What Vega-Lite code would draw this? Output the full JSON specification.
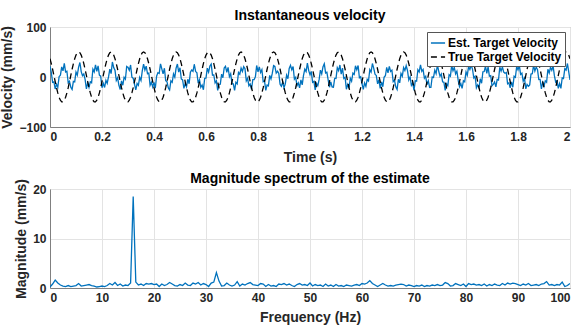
{
"$schema":"https://vega.github.io/schema/vega-lite/v6.json",
"padding":{"left":0,"top":8,"right":2,"bottom":2},
"spacing":6,
"config":{
"font":"Liberation Sans",
"view":{"stroke":"#a6a6a6","strokeWidth":1},
"axis":{"labelFontSize":12,"labelFontWeight":"bold","labelColor":"#262626","titleFontSize":14,"titleFontWeight":"bold","titleColor":"#262626","gridColor":"#e3e3e3","domainColor":"#808080","ticks":false,"labelPadding":4},
"title":{"fontSize":14,"fontWeight":"bold","color":"#000000"}
},
"datasets":{
"vel":[
{"t":0,"e":21.6,"g":36.5},{"t":0.005,"e":9.1,"g":26.8},{"t":0.01,"e":-10.7,"g":15.5},{"t":0.015,"e":-9.6,"g":3.1},{"t":0.02,"e":-23.9,"g":-9.4},{"t":0.025,"e":-14.7,"g":-21.3},{"t":0.03,"e":-20.5,"g":-31.9},{"t":0.035,"e":0.6,"g":-40.5},{"t":0.04,"e":3.6,"g":-46.5},{"t":0.045,"e":20.1,"g":-49.6},{"t":0.05,"e":12.4,"g":-49.6},{"t":0.055,"e":27.4,"g":-46.5},{"t":0.06,"e":10.1,"g":-40.5},{"t":0.065,"e":11.6,"g":-31.9},{"t":0.07,"e":-11.4,"g":-21.3},{"t":0.075,"e":-8.5,"g":-9.4},{"t":0.08,"e":-20.7,"g":3.1},{"t":0.085,"e":-24.9,"g":15.5},{"t":0.09,"e":-8.6,"g":26.8},{"t":0.095,"e":-9.7,"g":36.5},{"t":0.1,"e":10.1,"g":43.8},{"t":0.105,"e":3.6,"g":48.4},{"t":0.11,"e":19.8,"g":50},{"t":0.115,"e":29.0,"g":48.4},{"t":0.12,"e":10.8,"g":43.8},
{"t":0.125,"e":2.6,"g":36.5},{"t":0.13,"e":6.1,"g":26.8},{"t":0.135,"e":-4.7,"g":15.5},{"t":0.14,"e":-23.6,"g":3.1},{"t":0.145,"e":-11.9,"g":-9.4},{"t":0.15,"e":-20.7,"g":-21.3},{"t":0.155,"e":-9.5,"g":-31.9},{"t":0.16,"e":-11.4,"g":-40.5},{"t":0.165,"e":15.6,"g":-46.5},{"t":0.17,"e":10.1,"g":-49.6},{"t":0.175,"e":24.4,"g":-49.6},{"t":0.18,"e":11.4,"g":-46.5},{"t":0.185,"e":22.1,"g":-40.5},{"t":0.19,"e":3.6,"g":-31.9},{"t":0.195,"e":1.6,"g":-21.3},{"t":0.2,"e":-21.5,"g":-9.4},{"t":0.205,"e":-12.7,"g":3.1},{"t":0.21,"e":-20.9,"g":15.5},{"t":0.215,"e":-6.6,"g":26.8},{"t":0.22,"e":-12.7,"g":36.5},{"t":0.225,"e":0.1,"g":43.8},{"t":0.23,"e":15.6,"g":48.4},{"t":0.235,"e":6.8,"g":50},{"t":0.24,"e":30.0,"g":48.4},{"t":0.245,"e":18.8,"g":43.8},
{"t":0.25,"e":13.6,"g":36.5},{"t":0.255,"e":-6.9,"g":26.8},{"t":0.26,"e":-1.7,"g":15.5},{"t":0.265,"e":-16.6,"g":3.1},{"t":0.27,"e":-24.9,"g":-9.4},{"t":0.275,"e":-7.7,"g":-21.3},{"t":0.28,"e":-16.5,"g":-31.9},{"t":0.285,"e":-0.4,"g":-40.5},{"t":0.29,"e":-4.4,"g":-46.5},{"t":0.295,"e":21.1,"g":-49.6},{"t":0.3,"e":19.4,"g":-49.6},{"t":0.305,"e":13.4,"g":-46.5},{"t":0.31,"e":24.1,"g":-40.5},{"t":0.315,"e":-0.4,"g":-31.9},{"t":0.32,"e":-2.4,"g":-21.3},{"t":0.325,"e":-14.5,"g":-9.4},{"t":0.33,"e":-25.7,"g":3.1},{"t":0.335,"e":-12.9,"g":15.5},{"t":0.34,"e":-16.6,"g":26.8},{"t":0.345,"e":-0.7,"g":36.5},{"t":0.35,"e":-6.9,"g":43.8},{"t":0.355,"e":12.6,"g":48.4},{"t":0.36,"e":25.8,"g":50},{"t":0.365,"e":14.0,"g":48.4},{"t":0.37,"e":21.8,"g":43.8},
{"t":0.375,"e":6.6,"g":36.5},{"t":0.38,"e":8.1,"g":26.8},{"t":0.385,"e":-16.7,"g":15.5},{"t":0.39,"e":-10.6,"g":3.1},{"t":0.395,"e":-19.9,"g":-9.4},{"t":0.4,"e":-10.7,"g":-21.3},{"t":0.405,"e":-22.5,"g":-31.9},{"t":0.41,"e":1.6,"g":-40.5},{"t":0.415,"e":8.6,"g":-46.5},{"t":0.42,"e":7.1,"g":-49.6},{"t":0.425,"e":26.4,"g":-49.6},{"t":0.43,"e":16.4,"g":-46.5},{"t":0.435,"e":6.1,"g":-40.5},{"t":0.44,"e":17.6,"g":-31.9},{"t":0.445,"e":-7.4,"g":-21.3},{"t":0.45,"e":-9.5,"g":-9.4},{"t":0.455,"e":-21.7,"g":3.1},{"t":0.46,"e":-25.9,"g":15.5},{"t":0.465,"e":-7.6,"g":26.8},{"t":0.47,"e":-10.7,"g":36.5},{"t":0.475,"e":6.1,"g":43.8},{"t":0.48,"e":-0.4,"g":48.4},{"t":0.485,"e":17.8,"g":50},{"t":0.49,"e":26.0,"g":48.4},{"t":0.495,"e":9.8,"g":43.8},
{"t":0.5,"e":18.6,"g":36.5},{"t":0.505,"e":-3.9,"g":26.8},{"t":0.51,"e":-5.7,"g":15.5},{"t":0.515,"e":-22.6,"g":3.1},{"t":0.52,"e":-12.9,"g":-9.4},{"t":0.525,"e":-19.7,"g":-21.3},{"t":0.53,"e":-4.5,"g":-31.9},{"t":0.535,"e":-13.4,"g":-40.5},{"t":0.54,"e":9.6,"g":-46.5},{"t":0.545,"e":14.1,"g":-49.6},{"t":0.55,"e":11.4,"g":-49.6},{"t":0.555,"e":25.4,"g":-46.5},{"t":0.56,"e":11.1,"g":-40.5},{"t":0.565,"e":8.6,"g":-31.9},{"t":0.57,"e":-12.4,"g":-21.3},{"t":0.575,"e":-5.5,"g":-9.4},{"t":0.58,"e":-20.7,"g":3.1},{"t":0.585,"e":-15.9,"g":15.5},{"t":0.59,"e":-25.6,"g":26.8},{"t":0.595,"e":-2.7,"g":36.5},{"t":0.6,"e":-1.9,"g":43.8},{"t":0.605,"e":17.6,"g":48.4},{"t":0.61,"e":9.8,"g":50},{"t":0.615,"e":22.0,"g":48.4},{"t":0.62,"e":25.8,"g":43.8},
{"t":0.625,"e":3.6,"g":36.5},{"t":0.63,"e":4.1,"g":26.8},{"t":0.635,"e":-11.7,"g":15.5},{"t":0.64,"e":-7.6,"g":3.1},{"t":0.645,"e":-26.9,"g":-9.4},{"t":0.65,"e":-14.7,"g":-21.3},{"t":0.655,"e":-14.5,"g":-31.9},{"t":0.66,"e":5.6,"g":-40.5},{"t":0.665,"e":-1.4,"g":-46.5},{"t":0.67,"e":18.1,"g":-49.6},{"t":0.675,"e":21.4,"g":-49.6},{"t":0.68,"e":9.4,"g":-46.5},{"t":0.685,"e":19.1,"g":-40.5},{"t":0.69,"e":0.6,"g":-31.9},{"t":0.695,"e":6.6,"g":-21.3},{"t":0.7,"e":-13.5,"g":-9.4},{"t":0.705,"e":-13.7,"g":3.1},{"t":0.71,"e":-26.9,"g":15.5},{"t":0.715,"e":-10.6,"g":26.8},{"t":0.72,"e":-13.7,"g":36.5},{"t":0.725,"e":9.1,"g":43.8},{"t":0.73,"e":5.6,"g":48.4},{"t":0.735,"e":17.8,"g":50},{"t":0.74,"e":11.0,"g":48.4},{"t":0.745,"e":20.8,"g":43.8},
{"t":0.75,"e":16.6,"g":36.5},{"t":0.755,"e":-7.9,"g":26.8},{"t":0.76,"e":-2.7,"g":15.5},{"t":0.765,"e":-17.6,"g":3.1},{"t":0.77,"e":-13.9,"g":-9.4},{"t":0.775,"e":-24.7,"g":-21.3},{"t":0.78,"e":-5.5,"g":-31.9},{"t":0.785,"e":-5.4,"g":-40.5},{"t":0.79,"e":0.6,"g":-46.5},{"t":0.795,"e":23.1,"g":-49.6},{"t":0.8,"e":10.4,"g":-49.6},{"t":0.805,"e":20.4,"g":-46.5},{"t":0.81,"e":9.1,"g":-40.5},{"t":0.815,"e":14.6,"g":-31.9},{"t":0.82,"e":-9.4,"g":-21.3},{"t":0.825,"e":-7.5,"g":-9.4},{"t":0.83,"e":-26.7,"g":3.1},{"t":0.835,"e":-15.9,"g":15.5},{"t":0.84,"e":-17.6,"g":26.8},{"t":0.845,"e":3.3,"g":36.5},{"t":0.85,"e":-3.9,"g":43.8},{"t":0.855,"e":7.6,"g":48.4},{"t":0.86,"e":22.8,"g":50},{"t":0.865,"e":21.0,"g":48.4},{"t":0.87,"e":7.8,"g":43.8},
{"t":0.875,"e":11.6,"g":36.5},{"t":0.88,"e":7.1,"g":26.8},{"t":0.885,"e":-14.7,"g":15.5},{"t":0.89,"e":-18.6,"g":3.1},{"t":0.895,"e":-9.9,"g":-9.4},{"t":0.9,"e":-21.7,"g":-21.3},{"t":0.905,"e":-13.5,"g":-31.9},{"t":0.91,"e":3.6,"g":-40.5},{"t":0.915,"e":-3.4,"g":-46.5},{"t":0.92,"e":17.1,"g":-49.6},{"t":0.925,"e":23.4,"g":-49.6},{"t":0.93,"e":14.4,"g":-46.5},{"t":0.935,"e":21.1,"g":-40.5},{"t":0.94,"e":-4.4,"g":-31.9},{"t":0.945,"e":-0.4,"g":-21.3},{"t":0.95,"e":-17.5,"g":-9.4},{"t":0.955,"e":-11.7,"g":3.1},{"t":0.96,"e":-21.9,"g":15.5},{"t":0.965,"e":-5.6,"g":26.8},{"t":0.97,"e":-15.7,"g":36.5},{"t":0.975,"e":3.1,"g":43.8},{"t":0.98,"e":15.6,"g":48.4},{"t":0.985,"e":10.8,"g":50},{"t":0.99,"e":28.0,"g":48.4},{"t":0.995,"e":12.8,"g":43.8},
{"t":1.0,"e":4.6,"g":36.5},{"t":1.005,"e":11.1,"g":26.8},{"t":1.01,"e":-10.7,"g":15.5},{"t":1.015,"e":-8.6,"g":3.1},{"t":1.02,"e":-25.9,"g":-9.4},{"t":1.025,"e":-12.7,"g":-21.3},{"t":1.03,"e":-17.5,"g":-31.9},{"t":1.035,"e":-5.4,"g":-40.5},{"t":1.04,"e":13.6,"g":-46.5},{"t":1.045,"e":6.1,"g":-49.6},{"t":1.05,"e":20.4,"g":-49.6},{"t":1.055,"e":26.4,"g":-46.5},{"t":1.06,"e":8.1,"g":-40.5},{"t":1.065,"e":9.6,"g":-31.9},{"t":1.07,"e":-6.4,"g":-21.3},{"t":1.075,"e":-20.5,"g":-9.4},{"t":1.08,"e":-9.7,"g":3.1},{"t":1.085,"e":-19.9,"g":15.5},{"t":1.09,"e":-20.6,"g":26.8},{"t":1.095,"e":-2.7,"g":36.5},{"t":1.1,"e":-2.9,"g":43.8},{"t":1.105,"e":18.6,"g":48.4},{"t":1.11,"e":12.8,"g":50},{"t":1.115,"e":24.0,"g":48.4},{"t":1.12,"e":5.8,"g":43.8},
{"t":1.125,"e":17.6,"g":36.5},{"t":1.13,"e":-2.9,"g":26.8},{"t":1.135,"e":-0.7,"g":15.5},{"t":1.14,"e":-24.6,"g":3.1},{"t":1.145,"e":-14.9,"g":-9.4},{"t":1.15,"e":-22.7,"g":-21.3},{"t":1.155,"e":-2.5,"g":-31.9},{"t":1.16,"e":-8.4,"g":-40.5},{"t":1.165,"e":7.6,"g":-46.5},{"t":1.17,"e":5.1,"g":-49.6},{"t":1.175,"e":22.4,"g":-49.6},{"t":1.18,"e":14.4,"g":-46.5},{"t":1.185,"e":23.1,"g":-40.5},{"t":1.19,"e":-1.4,"g":-31.9},{"t":1.195,"e":0.6,"g":-21.3},{"t":1.2,"e":-13.5,"g":-9.4},{"t":1.205,"e":-24.7,"g":3.1},{"t":1.21,"e":-11.9,"g":15.5},{"t":1.215,"e":-18.6,"g":26.8},{"t":1.22,"e":-4.7,"g":36.5},{"t":1.225,"e":-7.9,"g":43.8},{"t":1.23,"e":14.6,"g":48.4},{"t":1.235,"e":9.8,"g":50},{"t":1.24,"e":27.0,"g":48.4},{"t":1.245,"e":17.8,"g":43.8},
{"t":1.25,"e":5.6,"g":36.5},{"t":1.255,"e":3.1,"g":26.8},{"t":1.26,"e":-13.7,"g":15.5},{"t":1.265,"e":-5.6,"g":3.1},{"t":1.27,"e":-22.9,"g":-9.4},{"t":1.275,"e":-9.7,"g":-21.3},{"t":1.28,"e":-19.5,"g":-31.9},{"t":1.285,"e":-0.4,"g":-40.5},{"t":1.29,"e":2.6,"g":-46.5},{"t":1.295,"e":19.1,"g":-49.6},{"t":1.3,"e":8.4,"g":-49.6},{"t":1.305,"e":21.4,"g":-46.5},{"t":1.31,"e":11.1,"g":-40.5},{"t":1.315,"e":13.6,"g":-31.9},{"t":1.32,"e":-9.4,"g":-21.3},{"t":1.325,"e":-6.5,"g":-9.4},{"t":1.33,"e":-19.7,"g":3.1},{"t":1.335,"e":-24.9,"g":15.5},{"t":1.34,"e":-4.6,"g":26.8},{"t":1.345,"e":-11.7,"g":36.5},{"t":1.35,"e":7.1,"g":43.8},{"t":1.355,"e":1.6,"g":48.4},{"t":1.36,"e":18.8,"g":50},{"t":1.365,"e":13.0,"g":48.4},{"t":1.37,"e":22.8,"g":43.8},
{"t":1.375,"e":12.6,"g":36.5},{"t":1.38,"e":-5.9,"g":26.8},{"t":1.385,"e":0.3,"g":15.5},{"t":1.39,"e":-16.6,"g":3.1},{"t":1.395,"e":-11.9,"g":-9.4},{"t":1.4,"e":-26.7,"g":-21.3},{"t":1.405,"e":-7.5,"g":-31.9},{"t":1.41,"e":-8.4,"g":-40.5},{"t":1.415,"e":14.6,"g":-46.5},{"t":1.42,"e":10.1,"g":-49.6},{"t":1.425,"e":24.4,"g":-49.6},{"t":1.43,"e":11.4,"g":-46.5},{"t":1.435,"e":15.1,"g":-40.5},{"t":1.44,"e":-2.4,"g":-31.9},{"t":1.445,"e":1.6,"g":-21.3},{"t":1.45,"e":-15.5,"g":-9.4},{"t":1.455,"e":-7.7,"g":3.1},{"t":1.46,"e":-20.9,"g":15.5},{"t":1.465,"e":-20.6,"g":26.8},{"t":1.47,"e":0.3,"g":36.5},{"t":1.475,"e":-0.9,"g":43.8},{"t":1.48,"e":13.6,"g":48.4},{"t":1.485,"e":6.8,"g":50},{"t":1.49,"e":24.0,"g":48.4},{"t":1.495,"e":11.8,"g":43.8},
{"t":1.5,"e":1.6,"g":36.5},{"t":1.505,"e":6.1,"g":26.8},{"t":1.51,"e":-9.7,"g":15.5},{"t":1.515,"e":-10.6,"g":3.1},{"t":1.52,"e":-26.9,"g":-9.4},{"t":1.525,"e":-13.7,"g":-21.3},{"t":1.53,"e":-17.5,"g":-31.9},{"t":1.535,"e":4.6,"g":-40.5},{"t":1.54,"e":1.6,"g":-46.5},{"t":1.545,"e":23.1,"g":-49.6},{"t":1.55,"e":12.4,"g":-49.6},{"t":1.555,"e":19.4,"g":-46.5},{"t":1.56,"e":6.1,"g":-40.5},{"t":1.565,"e":11.6,"g":-31.9},{"t":1.57,"e":-6.4,"g":-21.3},{"t":1.575,"e":-19.5,"g":-9.4},{"t":1.58,"e":-12.7,"g":3.1},{"t":1.585,"e":-22.9,"g":15.5},{"t":1.59,"e":-7.6,"g":26.8},{"t":1.595,"e":-9.7,"g":36.5},{"t":1.6,"e":10.1,"g":43.8},{"t":1.605,"e":3.6,"g":48.4},{"t":1.61,"e":20.8,"g":50},{"t":1.615,"e":15.0,"g":48.4},{"t":1.62,"e":23.8,"g":43.8},
{"t":1.625,"e":15.6,"g":36.5},{"t":1.63,"e":-1.9,"g":26.8},{"t":1.635,"e":1.3,"g":15.5},{"t":1.64,"e":-21.6,"g":3.1},{"t":1.645,"e":-15.9,"g":-9.4},{"t":1.65,"e":-21.7,"g":-21.3},{"t":1.655,"e":-3.5,"g":-31.9},{"t":1.66,"e":-12.4,"g":-40.5},{"t":1.665,"e":10.6,"g":-46.5},{"t":1.67,"e":11.1,"g":-49.6},{"t":1.675,"e":21.4,"g":-49.6},{"t":1.68,"e":7.4,"g":-46.5},{"t":1.685,"e":20.1,"g":-40.5},{"t":1.69,"e":1.6,"g":-31.9},{"t":1.695,"e":2.6,"g":-21.3},{"t":1.7,"e":-17.5,"g":-9.4},{"t":1.705,"e":-14.7,"g":3.1},{"t":1.71,"e":-9.9,"g":15.5},{"t":1.715,"e":-19.6,"g":26.8},{"t":1.72,"e":-4.7,"g":36.5},{"t":1.725,"e":-5.9,"g":43.8},{"t":1.73,"e":19.6,"g":48.4},{"t":1.735,"e":11.8,"g":50},{"t":1.74,"e":20.0,"g":48.4},{"t":1.745,"e":9.8,"g":43.8},
{"t":1.75,"e":7.6,"g":36.5},{"t":1.755,"e":9.1,"g":26.8},{"t":1.76,"e":-13.7,"g":15.5},{"t":1.765,"e":-11.6,"g":3.1},{"t":1.77,"e":-21.9,"g":-9.4},{"t":1.775,"e":-9.7,"g":-21.3},{"t":1.78,"e":-20.5,"g":-31.9},{"t":1.785,"e":1.6,"g":-40.5},{"t":1.79,"e":-0.4,"g":-46.5},{"t":1.795,"e":21.1,"g":-49.6},{"t":1.8,"e":14.4,"g":-49.6},{"t":1.805,"e":23.4,"g":-46.5},{"t":1.81,"e":5.1,"g":-40.5},{"t":1.815,"e":7.6,"g":-31.9},{"t":1.82,"e":-8.4,"g":-21.3},{"t":1.825,"e":-2.5,"g":-9.4},{"t":1.83,"e":-23.7,"g":3.1},{"t":1.835,"e":-14.9,"g":15.5},{"t":1.84,"e":-18.6,"g":26.8},{"t":1.845,"e":-15.7,"g":36.5},{"t":1.85,"e":6.1,"g":43.8},{"t":1.855,"e":6.6,"g":48.4},{"t":1.86,"e":23.8,"g":50},{"t":1.865,"e":12.0,"g":48.4},{"t":1.87,"e":19.8,"g":43.8},
{"t":1.875,"e":14.6,"g":36.5},{"t":1.88,"e":-4.9,"g":26.8},{"t":1.885,"e":-4.7,"g":15.5},{"t":1.89,"e":-23.6,"g":3.1},{"t":1.895,"e":-10.9,"g":-9.4},{"t":1.9,"e":-18.7,"g":-21.3},{"t":1.905,"e":-7.5,"g":-31.9},{"t":1.91,"e":-10.4,"g":-40.5},{"t":1.915,"e":15.6,"g":-46.5},{"t":1.92,"e":8.1,"g":-49.6},{"t":1.925,"e":19.4,"g":-49.6},{"t":1.93,"e":13.4,"g":-46.5},{"t":1.935,"e":22.1,"g":-40.5},{"t":1.94,"e":2.6,"g":-31.9},{"t":1.945,"e":-10.4,"g":-21.3},{"t":1.95,"e":-7.5,"g":-9.4},{"t":1.955,"e":-22.7,"g":3.1},{"t":1.96,"e":-12.9,"g":15.5},{"t":1.965,"e":-22.6,"g":26.8},{"t":1.97,"e":-1.7,"g":36.5},{"t":1.975,"e":-2.9,"g":43.8},{"t":1.98,"e":16.6,"g":48.4},{"t":1.985,"e":13.8,"g":50},{"t":1.99,"e":27.0,"g":48.4},{"t":1.995,"e":10.8,"g":43.8},
{"t":2.0,"e":-6.0,"g":36.5}
],
"spec":[
{"f":0,"m":0.2},{"f":0.5,"m":0.8},{"f":1,"m":1.6},{"f":1.5,"m":1.0},{"f":2,"m":0.6},{"f":2.5,"m":0.4},{"f":3,"m":0.3},{"f":3.5,"m":0.5},{"f":4,"m":0.3},{"f":4.5,"m":0.4},
{"f":5,"m":0.5},{"f":5.5,"m":0.9},{"f":6,"m":0.4},{"f":6.5,"m":0.5},{"f":7,"m":0.6},{"f":7.5,"m":0.7},{"f":8,"m":0.5},{"f":8.5,"m":0.4},{"f":9,"m":0.2},{"f":9.5,"m":0.3},
{"f":10,"m":0.4},{"f":10.5,"m":0.3},{"f":11,"m":0.5},{"f":11.5,"m":0.9},{"f":12,"m":0.6},{"f":12.5,"m":1.1},{"f":13,"m":0.5},{"f":13.5,"m":0.8},{"f":14,"m":0.4},{"f":14.5,"m":0.6},
{"f":15,"m":0.5},{"f":15.5,"m":1.0},{"f":16,"m":18.5},{"f":16.5,"m":1.2},{"f":17,"m":0.6},{"f":17.5,"m":0.8},{"f":18,"m":0.5},{"f":18.5,"m":0.9},{"f":19,"m":0.8},{"f":19.5,"m":0.9},
{"f":20,"m":0.7},{"f":20.5,"m":0.8},{"f":21,"m":0.3},{"f":21.5,"m":0.8},{"f":22,"m":0.5},{"f":22.5,"m":0.7},{"f":23,"m":1.1},{"f":23.5,"m":0.8},{"f":24,"m":0.5},{"f":24.5,"m":0.4},
{"f":25,"m":0.7},{"f":25.5,"m":0.5},{"f":26,"m":1.0},{"f":26.5,"m":0.6},{"f":27,"m":0.5},{"f":27.5,"m":1.0},{"f":28,"m":0.8},{"f":28.5,"m":1.1},{"f":29,"m":0.6},{"f":29.5,"m":0.9},
{"f":30,"m":0.7},{"f":30.5,"m":0.3},{"f":31,"m":1.0},{"f":31.5,"m":1.2},{"f":32,"m":3.1},{"f":32.5,"m":1.4},{"f":33,"m":0.4},{"f":33.5,"m":0.5},{"f":34,"m":1.0},{"f":34.5,"m":0.6},
{"f":35,"m":0.4},{"f":35.5,"m":0.6},{"f":36,"m":1.3},{"f":36.5,"m":0.4},{"f":37,"m":0.8},{"f":37.5,"m":0.6},{"f":38,"m":0.9},{"f":38.5,"m":1.1},{"f":39,"m":0.7},{"f":39.5,"m":0.6},
{"f":40,"m":0.5},{"f":40.5,"m":0.9},{"f":41,"m":0.8},{"f":41.5,"m":0.3},{"f":42,"m":0.7},{"f":42.5,"m":0.4},{"f":43,"m":0.5},{"f":43.5,"m":0.3},{"f":44,"m":0.8},{"f":44.5,"m":0.7},
{"f":45,"m":0.9},{"f":45.5,"m":0.6},{"f":46,"m":0.8},{"f":46.5,"m":0.5},{"f":47,"m":0.3},{"f":47.5,"m":0.7},{"f":48,"m":0.9},{"f":48.5,"m":0.6},{"f":49,"m":0.7},{"f":49.5,"m":0.5},
{"f":50,"m":1.0},{"f":50.5,"m":0.4},{"f":51,"m":0.7},{"f":51.5,"m":0.5},{"f":52,"m":0.6},{"f":52.5,"m":0.3},{"f":53,"m":0.8},{"f":53.5,"m":0.4},{"f":54,"m":0.6},{"f":54.5,"m":0.3},
{"f":55,"m":0.7},{"f":55.5,"m":0.4},{"f":56,"m":0.5},{"f":56.5,"m":0.3},{"f":57,"m":0.6},{"f":57.5,"m":0.5},{"f":58,"m":0.4},{"f":58.5,"m":0.6},{"f":59,"m":0.7},{"f":59.5,"m":0.5},
{"f":60,"m":0.9},{"f":60.5,"m":0.8},{"f":61,"m":1.0},{"f":61.5,"m":1.5},{"f":62,"m":0.9},{"f":62.5,"m":0.6},{"f":63,"m":0.3},{"f":63.5,"m":0.6},{"f":64,"m":0.9},{"f":64.5,"m":0.6},
{"f":65,"m":0.4},{"f":65.5,"m":0.5},{"f":66,"m":0.4},{"f":66.5,"m":0.6},{"f":67,"m":0.7},{"f":67.5,"m":0.8},{"f":68,"m":0.7},{"f":68.5,"m":0.4},{"f":69,"m":0.6},{"f":69.5,"m":0.5},
{"f":70,"m":0.3},{"f":70.5,"m":0.5},{"f":71,"m":0.4},{"f":71.5,"m":0.6},{"f":72,"m":0.3},{"f":72.5,"m":0.5},{"f":73,"m":0.4},{"f":73.5,"m":0.6},{"f":74,"m":0.5},{"f":74.5,"m":0.7},
{"f":75,"m":0.5},{"f":75.5,"m":0.6},{"f":76,"m":1.1},{"f":76.5,"m":0.9},{"f":77,"m":0.4},{"f":77.5,"m":0.5},{"f":78,"m":0.9},{"f":78.5,"m":0.7},{"f":79,"m":0.5},{"f":79.5,"m":0.8},
{"f":80,"m":0.3},{"f":80.5,"m":0.9},{"f":81,"m":0.7},{"f":81.5,"m":0.8},{"f":82,"m":0.6},{"f":82.5,"m":0.7},{"f":83,"m":0.5},{"f":83.5,"m":0.8},{"f":84,"m":0.4},{"f":84.5,"m":0.7},
{"f":85,"m":0.5},{"f":85.5,"m":0.8},{"f":86,"m":0.6},{"f":86.5,"m":0.5},{"f":87,"m":0.9},{"f":87.5,"m":0.6},{"f":88,"m":1.0},{"f":88.5,"m":0.8},{"f":89,"m":1.0},{"f":89.5,"m":0.9},
{"f":90,"m":0.7},{"f":90.5,"m":0.5},{"f":91,"m":0.8},{"f":91.5,"m":0.6},{"f":92,"m":0.9},{"f":92.5,"m":0.5},{"f":93,"m":0.6},{"f":93.5,"m":0.7},{"f":94,"m":0.5},{"f":94.5,"m":0.8},
{"f":95,"m":0.9},{"f":95.5,"m":1.3},{"f":96,"m":0.6},{"f":96.5,"m":0.7},{"f":97,"m":0.5},{"f":97.5,"m":0.7},{"f":98,"m":0.6},{"f":98.5,"m":1.2},{"f":99,"m":0.3},{"f":99.5,"m":0.5},
{"f":100,"m":0.9}
]
},
"vconcat":[
{
"title":{"text":"Instantaneous velocity","offset":-2},
"width":520,"height":100,
"data":{"name":"vel"},
"transform":[{"fold":["e","g"],"as":["s","v"]}],
"mark":{"type":"line","strokeWidth":1.3,"clip":true},
"encoding":{
"x":{"field":"t","type":"quantitative","scale":{"domain":[0,2],"nice":false},"axis":{"values":[0,0.2,0.4,0.6,0.8,1,1.2,1.4,1.6,1.8,2],"format":"~g","title":"Time (s)","titlePadding":8}},
"y":{"field":"v","type":"quantitative","scale":{"domain":[-100,100],"nice":false},"axis":{"values":[-100,0,100],"title":"Velocity (mm/s)","titlePadding":4}},
"color":{"field":"s","type":"nominal","scale":{"domain":["e","g"],"range":["#0072BD","#000000"]},"legend":{"title":null,"orient":"top-right","offset":5,"fillColor":"#ffffff","strokeColor":"#555555","padding":3,"labelFontSize":12,"labelFontWeight":"bold","labelColor":"#000000","symbolType":"stroke","symbolStrokeWidth":1.6,"symbolSize":200,"rowPadding":0,"labelOffset":2,"labelExpr":"datum.value == 'e' ? 'Est. Target Velocity' : 'True Target Velocity'"}},
"strokeDash":{"field":"s","type":"nominal","scale":{"domain":["e","g"],"range":[[1,0],[6,4]]},"legend":{"title":null,"orient":"top-right","offset":5,"fillColor":"#ffffff","strokeColor":"#555555","padding":3,"labelFontSize":12,"labelFontWeight":"bold","labelColor":"#000000","symbolType":"stroke","symbolStrokeWidth":1.6,"symbolSize":200,"rowPadding":0,"labelOffset":2,"labelExpr":"datum.value == 'e' ? 'Est. Target Velocity' : 'True Target Velocity'"}}
}
},
{
"title":{"text":"Magnitude spectrum of the estimate","offset":-7},
"width":520,"height":99,
"data":{"name":"spec"},
"mark":{"type":"line","strokeWidth":1.3,"color":"#0072BD","clip":true},
"encoding":{
"x":{"field":"f","type":"quantitative","scale":{"domain":[0,100],"nice":false},"axis":{"values":[0,10,20,30,40,50,60,70,80,90,100],"title":"Frequency (Hz)","titlePadding":7}},
"y":{"field":"m","type":"quantitative","scale":{"domain":[0,20],"nice":false},"axis":{"values":[0,10,20],"title":"Magnitude (mm/s)","titlePadding":4}}
}
}
]
}
